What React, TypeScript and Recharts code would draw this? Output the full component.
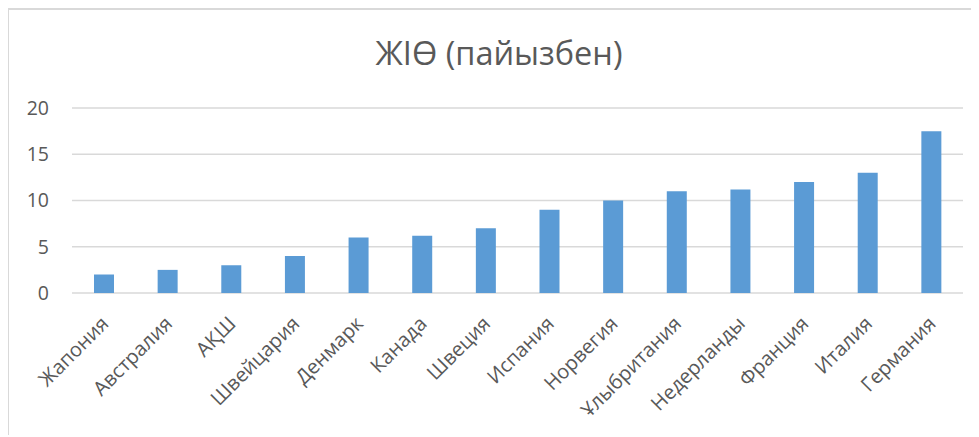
// Column chart of GDP share by country (Kazakh labels)
import { BarChart, Bar, XAxis, YAxis, CartesianGrid } from 'recharts'

const countries = [
  'Жапония', 'Австралия', 'АҚШ', 'Швейцария', 'Денмарк', 'Канада', 'Швеция',
  'Испания', 'Норвегия', 'Ұлыбритания', 'Недерланды', 'Франция', 'Италия', 'Германия',
]
const values = [2, 2.5, 3, 4, 6, 6.2, 7, 9, 10, 11, 11.2, 12, 13, 17.5]
const yTicks = [0, 5, 10, 15, 20]

const TEXT = '#595959'
const FONT = '"Open Sans", sans-serif'

const data = countries.map((name, i) => ({ name, value: values[i] }))

// rotated category label, text ends near the tick
function SlantTick({ x, y, payload }: any) {
  return (
    <g transform={`translate(${x + 6},${y + 24}) rotate(-45)`}>
      <text x={0} y={0} textAnchor="end" fill={TEXT} fontSize={20} fontFamily={FONT}>
        {payload.value}
      </text>
    </g>
  )
}

export default function App() {
  return (
    <div style={{ position: 'relative', width: 971, height: 429 }}>
      {/* chart frame, cropped at right/bottom */}
      <div style={{
        position: 'absolute', left: -1, top: 0, width: 972, height: 427,
        borderTop: '2px solid #d9d9d9', borderLeft: '2px solid #d9d9d9', boxSizing: 'border-box',
      }} />
      <div style={{
        position: 'absolute', left: 291, width: 400, top: 24, textAlign: 'center',
        fontFamily: FONT, fontSize: 32.5, color: TEXT, lineHeight: '42px',
      }}>
        ЖІӨ (пайызбен)
      </div>
      <BarChart
        width={971}
        height={429}
        data={data}
        margin={{ top: 100, right: 16, bottom: 0, left: 0 }}
        barSize={20}
        style={{ position: 'absolute', left: 0, top: 0 }}
      >
        <CartesianGrid vertical={false} stroke="#d9d9d9" strokeWidth={1.5} />
        <YAxis
          domain={[0, 20]}
          ticks={yTicks}
          axisLine={false}
          tickLine={false}
          tickSize={0}
          tickMargin={23}
          width={64}
          tick={{ fill: TEXT, fontSize: 19.5, fontFamily: FONT }}
        />
        <XAxis
          dataKey="name"
          axisLine={false}
          tickLine={false}
          interval={0}
          height={144}
          tick={<SlantTick />}
        />
        <Bar dataKey="value" fill="#5b9bd5" isAnimationActive={false} />
      </BarChart>
    </div>
  )
}
